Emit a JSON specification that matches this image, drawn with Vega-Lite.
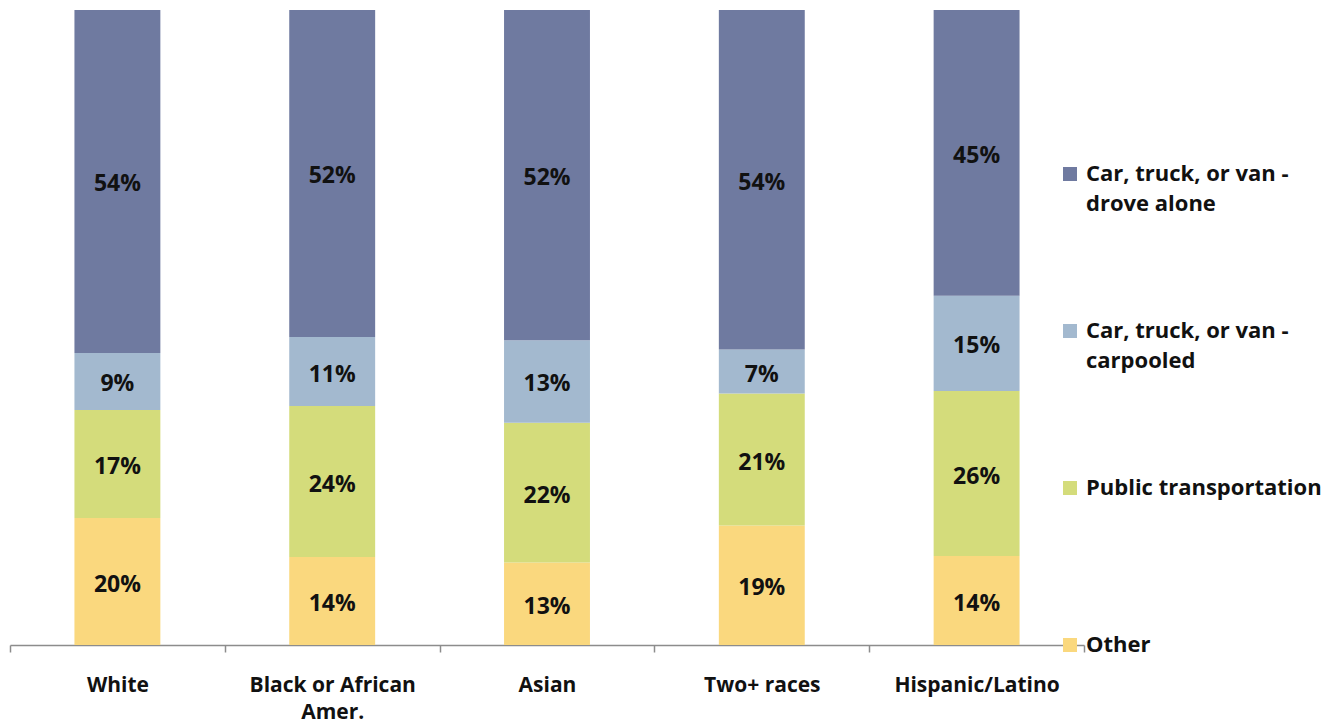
{
  "$schema": "https://vega.github.io/schema/vega-lite/v6.json",
  "width": 1074,
  "height": 635,
  "autosize": "none",
  "padding": {"left": 10, "top": 10, "right": 254, "bottom": 79},
  "background": "white",
  "config": {
    "view": {"stroke": null},
    "font": "Open Sans",
    "style": {"guide-label": {"lineHeight": 30}}
  },
  "data": {
    "values": [
      {"race": "White", "mode": "Other", "pct": 20},
      {"race": "White", "mode": "Public transportation", "pct": 17},
      {"race": "White", "mode": "Car, truck, or van - carpooled", "pct": 9},
      {"race": "White", "mode": "Car, truck, or van - drove alone", "pct": 54},
      {"race": "Black or African Amer.", "mode": "Other", "pct": 14},
      {"race": "Black or African Amer.", "mode": "Public transportation", "pct": 24},
      {"race": "Black or African Amer.", "mode": "Car, truck, or van - carpooled", "pct": 11},
      {"race": "Black or African Amer.", "mode": "Car, truck, or van - drove alone", "pct": 52},
      {"race": "Asian", "mode": "Other", "pct": 13},
      {"race": "Asian", "mode": "Public transportation", "pct": 22},
      {"race": "Asian", "mode": "Car, truck, or van - carpooled", "pct": 13},
      {"race": "Asian", "mode": "Car, truck, or van - drove alone", "pct": 52},
      {"race": "Two+ races", "mode": "Other", "pct": 19},
      {"race": "Two+ races", "mode": "Public transportation", "pct": 21},
      {"race": "Two+ races", "mode": "Car, truck, or van - carpooled", "pct": 7},
      {"race": "Two+ races", "mode": "Car, truck, or van - drove alone", "pct": 54},
      {"race": "Hispanic/Latino", "mode": "Other", "pct": 14},
      {"race": "Hispanic/Latino", "mode": "Public transportation", "pct": 26},
      {"race": "Hispanic/Latino", "mode": "Car, truck, or van - carpooled", "pct": 15},
      {"race": "Hispanic/Latino", "mode": "Car, truck, or van - drove alone", "pct": 45}
    ]
  },
  "transform": [
    {"calculate": "indexof(['Other','Public transportation','Car, truck, or van - carpooled','Car, truck, or van - drove alone'], datum.mode)", "as": "ord"},
    {"stack": "pct", "groupby": ["race"], "sort": [{"field": "ord", "order": "ascending"}], "offset": "normalize", "as": ["y0", "y1"]},
    {"calculate": "(datum.y0 + datum.y1) / 2", "as": "ymid"},
    {"calculate": "datum.pct + '%'", "as": "lbl"}
  ],
  "encoding": {
    "x": {
      "field": "race",
      "type": "nominal",
      "sort": ["White", "Black or African Amer.", "Asian", "Two+ races", "Hispanic/Latino"],
      "scale": {"paddingInner": 0, "paddingOuter": 0},
      "axis": {
        "title": null,
        "labelAngle": 0,
        "domainColor": "#8c8c8c",
        "domainWidth": 1.5,
        "tickColor": "#8c8c8c",
        "tickWidth": 1.5,
        "tickSize": 7,
        "tickBand": "extent",
        "labelFont": "Open Sans",
        "labelFontSize": 21,
        "labelFontWeight": "bold",
        "labelColor": "#111111",
        "labelPadding": 33,
        "labelLineHeight": 27,
        "labelBaseline": "middle",
        "labelExpr": "datum.label == 'Black or African Amer.' ? ['Black or African', 'Amer.'] : datum.label"
      }
    }
  },
  "layer": [
    {
      "mark": {"type": "bar", "width": {"band": 0.4}},
      "encoding": {
        "y": {"field": "y0", "type": "quantitative", "scale": {"domain": [0, 1], "nice": false}, "axis": null},
        "y2": {"field": "y1"},
        "color": {
          "field": "mode",
          "type": "nominal",
          "scale": {
            "domain": ["Car, truck, or van - drove alone", "Car, truck, or van - carpooled", "Public transportation", "Other"],
            "range": ["#6f7aa0", "#a3b9cf", "#d4dc7b", "#fad87e"]
          },
          "legend": {
            "orient": "none",
            "legendX": 1049,
            "legendY": 153,
            "title": null,
            "padding": 0,
            "symbolType": "square",
            "symbolSize": 196,
            "symbolStrokeWidth": 0,
            "labelFont": "Open Sans",
            "labelFontSize": 22,
            "labelFontWeight": "bold",
            "labelColor": "#111111",
            "labelLimit": 300,
            "labelOffset": 5,
            "rowPadding": 105,
            "gridAlign": "all",
            "labelBaseline": "middle",
            "labelExpr": "datum.label == 'Car, truck, or van - drove alone' ? ['Car, truck, or van -', 'drove alone'] : datum.label == 'Car, truck, or van - carpooled' ? ['Car, truck, or van -', 'carpooled'] : datum.label"
          }
        }
      }
    },
    {
      "mark": {"type": "text", "fontSize": 23, "fontWeight": "bold", "color": "#111111", "font": "Open Sans", "dy": 3},
      "encoding": {
        "y": {"field": "ymid", "type": "quantitative"},
        "text": {"field": "lbl", "type": "nominal"}
      }
    }
  ]
}
